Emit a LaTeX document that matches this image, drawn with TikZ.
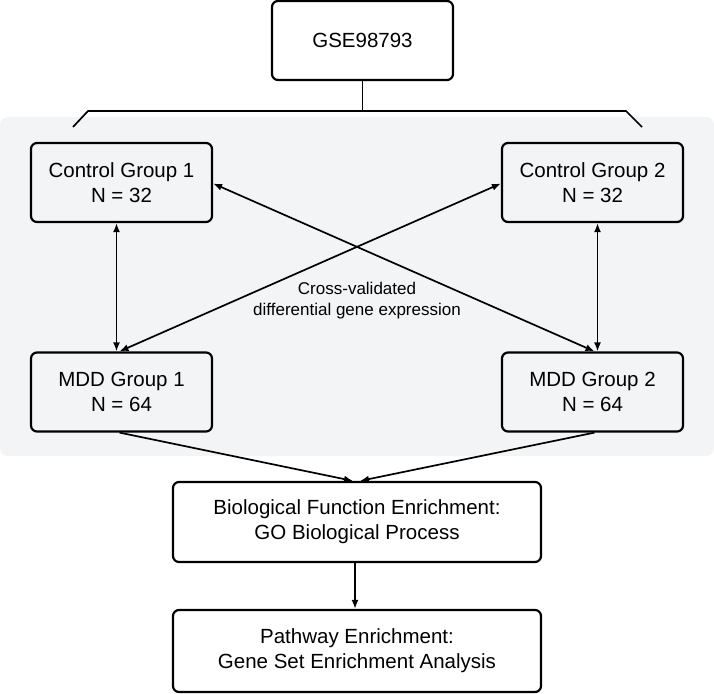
\documentclass[tikz,border=0pt]{standalone}
\usepackage{fontspec}
\setmainfont{Liberation Sans}
\usetikzlibrary{arrows.meta}
\usetikzlibrary{positioning}

\definecolor{panelgray}{RGB}{243,244,246}

\begin{document}
\begin{tikzpicture}[x=1pt,y=-1pt,
	box/.style={draw=black, line width=2.2pt, rounded corners=6pt, fill=white, align=center, inner sep=0pt, font=\fontsize{20.5}{25}\selectfont},
	group/.style={box, minimum width=181pt, minimum height=79pt, fill=panelgray},
	wide/.style={box, minimum width=368pt, minimum height=80pt},
	link/.style={line width=1.7pt, -{Latex[length=9pt,width=7pt]}},
	twoway/.style={line width=1.7pt, {Latex[length=9pt,width=7pt]}-{Latex[length=9pt,width=7pt]}}]

	\useasboundingbox (0,0) rectangle (714,693);

	%Panel
	\fill[panelgray, rounded corners=8pt] (0,117) rectangle (714,456);

	%Dataset
	\node[box, minimum width=181pt, minimum height=79pt] (gse) at (362.5,40.5) {GSE98793};

	%Bracket
	\coordinate (brtop) at (362,111);
	\draw[line width=1.7pt] (73,127) -- (88,111) -- (626,111) -- (642,127);
	\draw[line width=1.7pt] (gse.south) -- (gse.south |- brtop);

	%Groups
	\node[group] (ctrlA) at (121.5,182.5) {Control Group 1\\N = 32};
	\node[group] (ctrlB) at (592.5,182.5) {Control Group 2\\N = 32};
	\node[group] (mddA) at (121.5,392) {MDD Group 1\\N = 64};
	\node[group] (mddB) at (592.5,392) {MDD Group 2\\N = 64};

	\node[font=\fontsize{17}{21}\selectfont, align=center] (cvlabel) at (357,301) {Cross-validated\\differential gene expression};

	%Enrichment
	\node[wide] (biofun) at (357,522) {Biological Function Enrichment:\\GO Biological Process};
	\node[wide, minimum height=82pt] (pathway) at (357,651) {Pathway Enrichment:\\Gene Set Enrichment Analysis};

	%Comparisons
	\draw[twoway] ([xshift=-5pt]ctrlA.south) -- ([xshift=-5pt]mddA.north);
	\draw[twoway] ([xshift=5pt]ctrlB.south) -- ([xshift=5pt]mddB.north);
	\draw[twoway] ([xshift=-2pt]mddA.north) -- ([yshift=-1pt]ctrlB.west);
	\draw[twoway] ([yshift=-1pt]ctrlA.east) -- ([xshift=2pt]mddB.north);

	%Flow
	\draw[link] ([xshift=-2pt]mddA.south) -- ([xshift=-4pt]biofun.north);
	\draw[link] ([xshift=2pt]mddB.south) -- ([xshift=3pt]biofun.north);
	\draw[link] ([xshift=-2pt]biofun.south) -- ([xshift=-2pt]pathway.north);

\end{tikzpicture}
\end{document}
